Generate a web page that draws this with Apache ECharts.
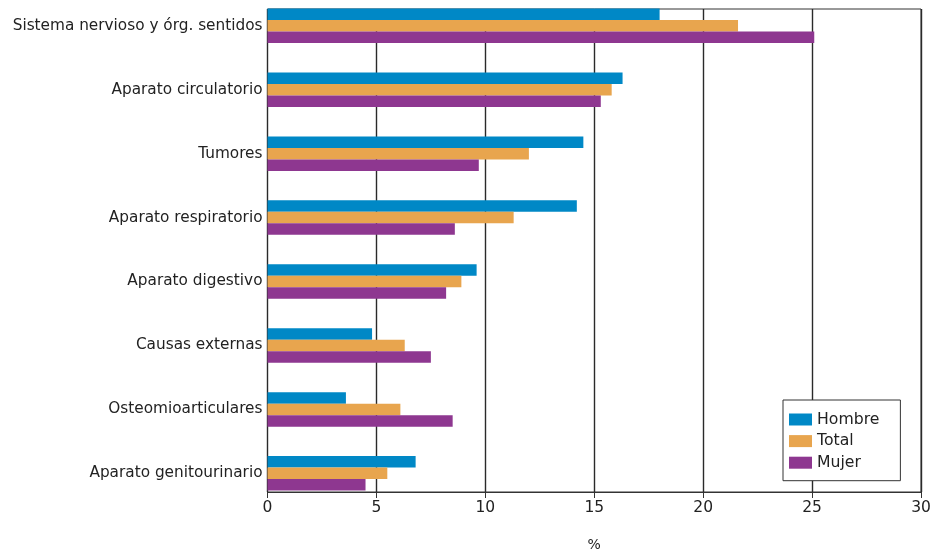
<!DOCTYPE html>
<html>
<head>
<meta charset="utf-8">
<script src="https://cdn.jsdelivr.net/npm/echarts@6/dist/echarts.min.js"></script>
<style>
  html, body { margin: 0; padding: 0; background: #fff; }
  #chart { width: 933px; height: 553px; }
</style>
</head>
<body>
<div id="chart"></div>
<script>
// Causas de morbilidad por sexo (%)
const categories = [
  'Sistema nervioso y órg. sentidos',
  'Aparato circulatorio',
  'Tumores',
  'Aparato respiratorio',
  'Aparato digestivo',
  'Causas externas',
  'Osteomioarticulares',
  'Aparato genitourinario'
];
const hombre = [18.0, 16.3, 14.5, 14.2, 9.6, 4.8, 3.6, 6.8];
const total  = [21.6, 15.8, 12.0, 11.3, 8.9, 6.3, 6.1, 5.5];
const mujer  = [25.1, 15.3, 9.7, 8.6, 8.2, 7.5, 8.5, 4.5];
const xTicks = [0, 5, 10, 15, 20, 25, 30];

const FONT = '"DejaVu Sans", Verdana, sans-serif';
const COLORS = { hombre: '#0088C6', total: '#E8A54E', mujer: '#8E3790' };

const chart = echarts.init(document.getElementById('chart'), null, { renderer: 'canvas' });

function barSeries(name, data, color) {
  return {
    name: name,
    type: 'bar',
    xAxisIndex: 1,
    yAxisIndex: 1,
    data: data,
    barWidth: 11.5,
    barGap: '0%',
    itemStyle: { color: color },
    emphasis: { disabled: true },
    animation: false
  };
}

chart.setOption({
  animation: false,
  color: [COLORS.hombre, COLORS.total, COLORS.mujer],
  textStyle: { fontFamily: FONT },
  grid: [
    // frame, gridlines and value axis
    { left: 267.5, right: 12, top: 9, height: 483, show: true, borderColor: '#333', borderWidth: 1,
      containLabel: false, outerBoundsMode: 'none' },
    // bars and category labels
    { left: 267.5, right: 12, top: -6.2, height: 511.5, containLabel: false, outerBoundsMode: 'none' }
  ],
  xAxis: [
    {
      gridIndex: 0, type: 'value', min: xTicks[0], max: xTicks[xTicks.length - 1], interval: 5,
      axisLine: { show: true, lineStyle: { color: '#333', width: 1 } },
      axisTick: { show: true, length: 6, lineStyle: { color: '#333' } },
      axisLabel: { color: '#222', fontSize: 15.5, margin: 8, fontFamily: FONT },
      splitLine: { show: true, lineStyle: { color: '#2a2a2a', width: 1.4 } },
      name: '%', nameLocation: 'middle', nameGap: 46,
      nameTextStyle: { color: '#222', fontSize: 14, fontFamily: FONT }
    },
    {
      gridIndex: 1, type: 'value', min: xTicks[0], max: xTicks[xTicks.length - 1], show: false
    }
  ],
  yAxis: [
    { gridIndex: 0, type: 'value', show: false, splitLine: { show: false } },
    {
      gridIndex: 1, type: 'category', data: categories, inverse: true,
      axisLine: { show: false }, axisTick: { show: false },
      axisLabel: { color: '#222', fontSize: 15.3, margin: 5, fontFamily: FONT },
      splitLine: { show: false }
    }
  ],
  legend: {
    orient: 'vertical',
    left: 783, top: 400,
    data: ['Hombre', 'Total', 'Mujer'],
    icon: 'rect',
    itemWidth: 23, itemHeight: 12, itemGap: 5.6,
    selectedMode: false,
    borderColor: '#333', borderWidth: 1,
    padding: [11.5, 21, 10, 6],
    backgroundColor: '#fff',
    textStyle: { color: '#222', fontSize: 15.7, fontFamily: FONT }
  },
  series: [
    barSeries('Hombre', hombre, COLORS.hombre),
    barSeries('Total', total, COLORS.total),
    barSeries('Mujer', mujer, COLORS.mujer)
  ]
});
</script>
</body>
</html>
